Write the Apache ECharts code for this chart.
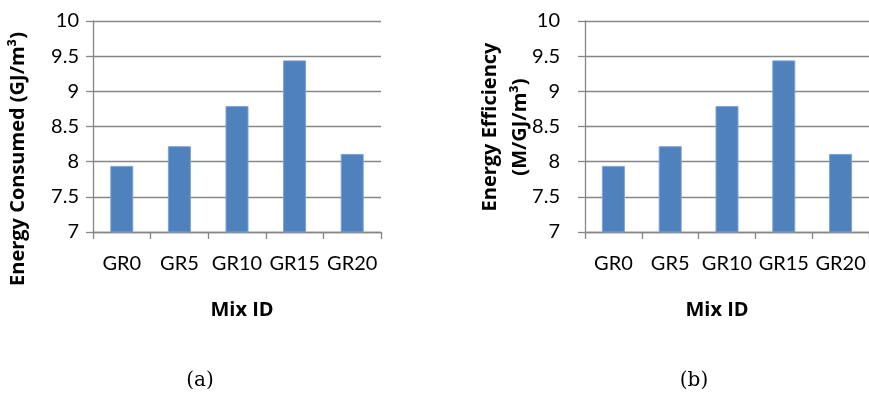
<!DOCTYPE html>
<html>
<head>
<meta charset="utf-8">
<script src="https://cdn.jsdelivr.net/npm/echarts@6/dist/echarts.min.js"></script>
<style>
  html, body { margin: 0; padding: 0; background: #fff; }
  #chart { width: 869px; height: 394px; }
</style>
</head>
<body>
<div id="chart"></div>
<script>
// Mix designs along the x axis
const mixIds = ['GR0', 'GR5', 'GR10', 'GR15', 'GR20'];
// (a) energy consumed per cubic metre
const energyConsumed = [7.94, 8.22, 8.79, 9.44, 8.11];
// (b) energy efficiency
const energyEfficiency = [7.94, 8.22, 8.79, 9.44, 8.11];
// shared value axis range
const yMin = 7, yMax = 10, yStep = 0.5;
// axis titles and panel captions
const xTitle = 'Mix ID';
const yTitles = ['Energy Consumed (GJ/m³)', 'Energy Efficiency\n(M/GJ/m³)'];
const captions = ['(a)', '(b)'];

const gray = '#868686';
const barBlue = '#4F81BD';
const tickFont = 'Lato';
const titleFont = '"Open Sans"';

function valueAxis(gridIndex, labelMargin) {
  return {
    type: 'value', gridIndex, min: yMin, max: yMax, interval: yStep,
    axisLine: { show: true, lineStyle: { color: gray, width: 1.3 } },
    axisTick: { show: true, length: 7, lineStyle: { color: gray, width: 1.3 } },
    splitLine: { show: true, lineStyle: { color: gray, width: 1.3 } },
    axisLabel: { fontFamily: tickFont, fontSize: 20, color: '#000', margin: labelMargin }
  };
}

function categoryAxis(gridIndex) {
  return {
    type: 'category', gridIndex, data: mixIds,
    axisLine: { show: true, lineStyle: { color: gray, width: 1.3 } },
    axisTick: { show: true, length: 7, alignWithLabel: false, lineStyle: { color: gray, width: 1.3 } },
    axisLabel: { fontFamily: tickFont, fontSize: 20, color: '#000', margin: 22, interval: 0 }
  };
}

function barSeries(idx, data) {
  return {
    type: 'bar', xAxisIndex: idx, yAxisIndex: idx, data,
    barWidth: 23,
    itemStyle: { color: barBlue, borderColor: '#7ba3d6', borderWidth: 1 },
    silent: true
  };
}

const boldTitle = 'bold 20px ' + titleFont;
function titleText(text, x, y, rotated) {
  return {
    type: 'text', x, y, rotation: rotated ? Math.PI / 2 : 0, silent: true,
    style: { text, font: boldTitle, fill: '#000', align: 'center', verticalAlign: 'middle', lineHeight: 30 }
  };
}
function captionText(text, x) {
  return {
    type: 'text', x, y: 381, silent: true,
    style: { text, font: '20px "DejaVu Serif"', fill: '#000', align: 'center', verticalAlign: 'middle' }
  };
}

const chart = echarts.init(document.getElementById('chart'), null, { renderer: 'canvas' });
chart.setOption({
  animation: false,
  backgroundColor: '#fff',
  grid: [
    { left: 93, top: 21, width: 288, height: 211 },
    { left: 585, top: 21, width: 289, height: 211 }
  ],
  xAxis: [categoryAxis(0), categoryAxis(1)],
  yAxis: [valueAxis(0, 14), valueAxis(1, 25)],
  series: [barSeries(0, energyConsumed), barSeries(1, energyEfficiency)],
  graphic: [
    titleText(yTitles[0], 18, 159, true),
    titleText(yTitles[1], 505, 127, true),
    titleText(xTitle, 242, 310, false),
    titleText(xTitle, 717, 310, false),
    captionText(captions[0], 200),
    captionText(captions[1], 694)
  ]
});
</script>
</body>
</html>
